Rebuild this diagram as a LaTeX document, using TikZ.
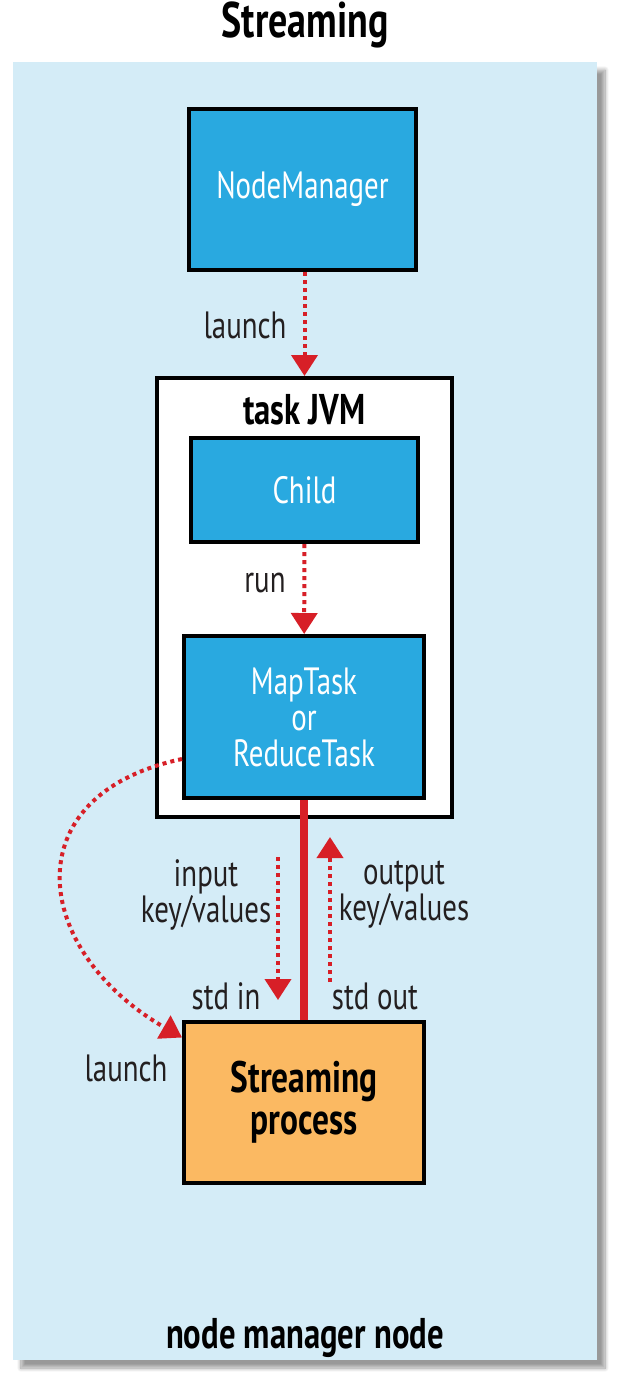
\documentclass[tikz,border=0pt]{standalone}
\usepackage{fontspec}
\setmainfont{PT Sans}[FakeStretch=0.76]
\usetikzlibrary{arrows.meta,shadows.blur,positioning}

\definecolor{panelblue}{HTML}{D4ECF7}
\definecolor{boxblue}{HTML}{29A9E0}
\definecolor{procorange}{HTML}{FBB962}
\definecolor{flowred}{HTML}{D71F27}
\definecolor{inkgray}{HTML}{231F20}

\begin{document}
\begin{tikzpicture}[x=0.5pt,y=-0.5pt,>={Triangle[width=13pt,length=10.5pt]},
                    font=\fontsize{19}{18}\selectfont,text=inkgray]
  \tikzset{panel/.style={fill=panelblue, minimum width=292pt, minimum height=649pt,
                         blur shadow={shadow xshift=4pt, shadow yshift=-4pt, shadow blur steps=10}},
           box/.style={draw=black, line width=2pt, fill=boxblue, text=white, align=center,
                       minimum width=113.5pt, minimum height=80.5pt, inner sep=0pt},
           jvmbox/.style={draw=black, line width=2pt, fill=white,
                          minimum width=147.5pt, minimum height=219.5pt},
           procbox/.style={box, fill=procorange, text=black, minimum width=120pt,
                           font=\fontsize{22}{21}\selectfont\bfseries},
           heading/.style={font=\fontsize{21.5}{22}\selectfont\bfseries, text=black},
           lbl/.style={align=center, inner sep=1pt},
           flow/.style={->, flowred, line width=2pt, dash pattern=on 2pt off 2pt},
           pipe/.style={flowred, line width=4pt}}

  \useasboundingbox (0,0) rectangle (623,1388);

  % node manager node
  \node[panel] (bg) at (305,711) {};
  \node[font=\fontsize{25}{26}\selectfont\bfseries, text=black] (ttl) at (305,25) {Streaming};
  \node[heading] (nmn) at (305,1338) {node manager node};

  \node[box] (nm) at (302.5,189.5) {NodeManager};

  % task JVM
  \node[jvmbox] (jvm) at (304.5,597.5) {};
  \node[heading] (jvmt) at (304.5,410) {task JVM};
  \node[box, minimum height=52pt] (child) at (304.5,490) {Child};
  \node[box, minimum width=120pt, minimum height=81pt] (map) at (304,717) {MapTask\\or\\ReduceTask};

  \node[procbox] (sp) at (304,1102) {Streaming\\process};

  \coordinate (inA)  at (278,857);
  \coordinate (inB)  at (278,1000);
  \coordinate (outA) at (330,982);
  \coordinate (outB) at (330,837);

  \node[lbl] (launch1) at (245,325)  {launch};
  \node[lbl] (run)     at (265,583)  {run};
  \node[lbl] (input)   at (206,895)  {input\\key/values};
  \node[lbl] (output)  at (404,895)  {output\\key/values};
  \node[lbl] (stdin)   at (226,996)  {std in};
  \node[lbl] (stdout)  at (375,996)  {std out};
  \node[lbl] (launch2) at (126,1068) {launch};

  \draw[pipe] (map.south) -- (sp.north);
  \draw[flow] (nm.south -| jvm.north) -- (jvm.north);
  \draw[flow] (child) -- (map);
  \draw[flow] (inA) -- (inB);
  \draw[flow] (outA) -- (outB);
  \draw[flow] ([yshift=-21pt]map.west) to[out=192,in=150,looseness=1.6] ([yshift=-9pt]sp.north west);
\end{tikzpicture}
\end{document}
